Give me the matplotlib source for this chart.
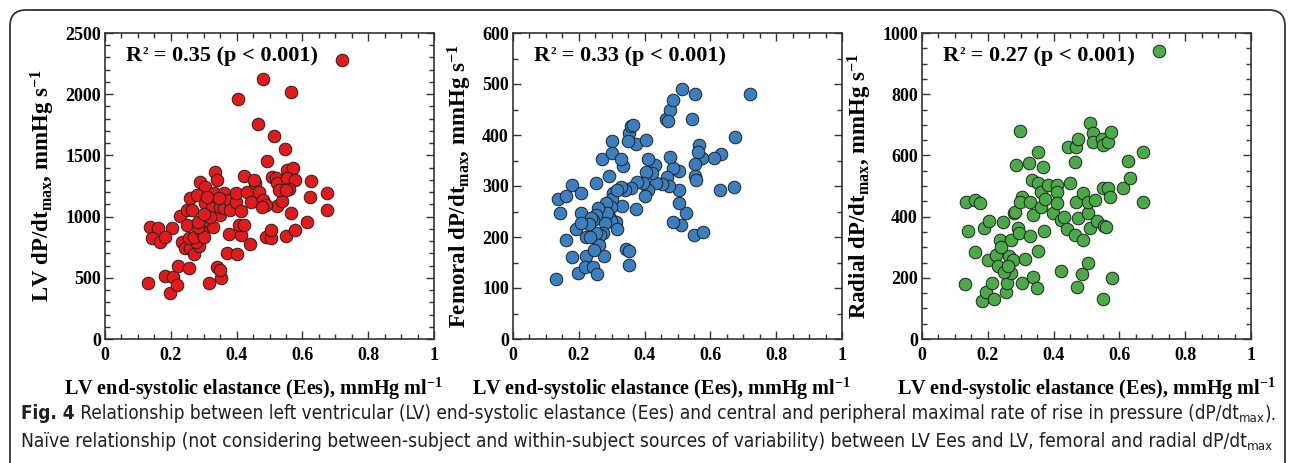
"""Fig. 4: LV Ees vs central and peripheral dP/dt_max."""

import matplotlib

matplotlib.use("Agg")

import matplotlib.pyplot as plt
from matplotlib.patches import FancyBboxPatch
from matplotlib.ticker import MultipleLocator

plt.rcParams["font.family"] = ["Liberation Serif", "DejaVu Serif"]
plt.rcParams["font.weight"] = "bold"
plt.rcParams["mathtext.fontset"] = "custom"
plt.rcParams["mathtext.rm"] = "Liberation Serif:bold"
plt.rcParams["mathtext.bf"] = "Liberation Serif:bold"
plt.rcParams["mathtext.it"] = "Liberation Serif:bold"

# --- data ---
lv_ees = [0.132, 0.198, 0.183, 0.208, 0.219, 0.222, 0.254, 0.315, 0.340, 0.353,
          0.350, 0.371, 0.401, 0.442, 0.376, 0.412, 0.407, 0.424, 0.488, 0.506,
          0.505, 0.549, 0.579, 0.613, 0.564, 0.523, 0.624, 0.627, 0.676, 0.676,
          0.491, 0.546, 0.137, 0.162, 0.142, 0.168, 0.203, 0.183, 0.227, 0.249,
          0.234, 0.244, 0.259, 0.269, 0.285, 0.276, 0.254, 0.269, 0.295, 0.300,
          0.328, 0.284, 0.300, 0.284, 0.249, 0.264, 0.257, 0.290, 0.305, 0.280,
          0.335, 0.340, 0.305, 0.330, 0.328, 0.325, 0.350, 0.349, 0.361, 0.361,
          0.376, 0.381, 0.397, 0.412, 0.397, 0.424, 0.432, 0.445, 0.457, 0.468,
          0.480, 0.488, 0.477, 0.452, 0.509, 0.519, 0.523, 0.539, 0.529, 0.554,
          0.572, 0.554, 0.576, 0.559, 0.549, 0.310, 0.318, 0.300, 0.345, 0.403,
          0.465, 0.480, 0.513, 0.566, 0.719]
lv_dpdt = [455, 378, 515, 509, 441, 596, 577, 460, 591, 501,
           564, 700, 698, 776, 858, 851, 931, 931, 831, 824,
           888, 841, 891, 953, 1027, 1087, 1163, 1294, 1195, 1054,
           1457, 1549, 918, 905, 822, 795, 905, 836, 1005, 931,
           795, 741, 741, 694, 763, 790, 822, 836, 877, 836,
           918, 918, 972, 958, 1054, 1054, 1149, 1280, 1244, 1177,
           1367, 1299, 1108, 1190, 1114, 1067, 1013, 1081, 1190, 1067,
           1136, 1054, 1122, 1049, 1190, 1332, 1204, 1122, 1272, 1204,
           1136, 1095, 1081, 1299, 1321, 1312, 1272, 1131, 1218, 1381,
           1395, 1312, 1303, 1226, 1218, 1160, 1000, 1020, 1150, 1964,
           1760, 2127, 1657, 2019, 2282]

fem_ees = [0.130, 0.137, 0.144, 0.162, 0.162, 0.180, 0.180, 0.206, 0.198, 0.193,
           0.206, 0.223, 0.218, 0.243, 0.255, 0.252, 0.277, 0.271, 0.302, 0.302,
           0.314, 0.342, 0.352, 0.352, 0.352, 0.359, 0.365, 0.373, 0.350, 0.403,
           0.373, 0.334, 0.329, 0.466, 0.478, 0.486, 0.515, 0.552, 0.545, 0.719,
           0.674, 0.671, 0.628, 0.633, 0.611, 0.575, 0.565, 0.562, 0.552, 0.552,
           0.557, 0.549, 0.577, 0.527, 0.512, 0.486, 0.504, 0.504, 0.504, 0.486,
           0.478, 0.468, 0.474, 0.454, 0.436, 0.431, 0.421, 0.410, 0.405, 0.410,
           0.400, 0.395, 0.377, 0.359, 0.339, 0.329, 0.332, 0.304, 0.302, 0.299,
           0.294, 0.299, 0.292, 0.284, 0.286, 0.279, 0.274, 0.263, 0.261, 0.251,
           0.258, 0.251, 0.243, 0.238, 0.231, 0.223, 0.233, 0.208, 0.245, 0.316,
           0.316, 0.470]
fem_dpdt = [117, 274, 248, 280, 194, 301, 160, 287, 129, 216,
            248, 163, 142, 142, 128, 305, 162, 352, 389, 364,
            230, 176, 172, 145, 403, 417, 419, 383, 389, 390,
            254, 340, 352, 432, 450, 468, 491, 480, 432, 480,
            397, 299, 293, 363, 354, 354, 380, 367, 343, 320,
            312, 204, 209, 248, 224, 230, 267, 292, 330, 335,
            357, 318, 300, 303, 305, 341, 325, 352, 328, 293,
            280, 306, 308, 297, 292, 299, 260, 286, 274, 258,
            237, 232, 320, 266, 248, 228, 207, 204, 185, 207,
            256, 243, 233, 237, 226, 200, 200, 228, 174, 215,
            292, 428]

rad_ees = [0.130, 0.135, 0.160, 0.176, 0.140, 0.160, 0.181, 0.194, 0.188, 0.204,
           0.201, 0.214, 0.219, 0.226, 0.231, 0.236, 0.245, 0.255, 0.257, 0.265,
           0.269, 0.272, 0.277, 0.279, 0.282, 0.287, 0.292, 0.295, 0.299, 0.303,
           0.299, 0.303, 0.313, 0.326, 0.328, 0.328, 0.333, 0.338, 0.338, 0.351,
           0.353, 0.353, 0.353, 0.363, 0.363, 0.369, 0.371, 0.374, 0.384, 0.399,
           0.409, 0.409, 0.411, 0.424, 0.431, 0.421, 0.440, 0.445, 0.450, 0.465,
           0.468, 0.468, 0.465, 0.475, 0.475, 0.472, 0.485, 0.488, 0.490, 0.506,
           0.506, 0.506, 0.511, 0.511, 0.519, 0.521, 0.526, 0.533, 0.546, 0.551,
           0.553, 0.559, 0.551, 0.551, 0.565, 0.566, 0.574, 0.570, 0.577, 0.612,
           0.627, 0.633, 0.673, 0.673, 0.721, 0.240, 0.250, 0.262]
rad_dpdt = [180, 449, 454, 443, 353, 284, 123, 152, 362, 387,
            259, 183, 130, 275, 237, 324, 382, 153, 183, 272,
            215, 324, 259, 411, 416, 568, 364, 346, 679, 465,
            449, 183, 261, 576, 449, 337, 520, 405, 201, 166,
            289, 612, 509, 482, 433, 563, 353, 457, 503, 413,
            503, 482, 443, 389, 400, 221, 359, 628, 511, 340,
            449, 628, 579, 395, 652, 170, 212, 478, 324, 411,
            449, 250, 362, 707, 672, 645, 454, 384, 655, 634,
            370, 365, 132, 492, 495, 645, 677, 463, 199, 492,
            583, 525, 612, 449, 940, 300, 220, 240]

panels = [
    (lv_ees, lv_dpdt, "#e31a1c", "LV", "0.35", 2500, 500, 100),
    (fem_ees, fem_dpdt, "#3a7fbf", "Femoral", "0.33", 600, 100, 50),
    (rad_ees, rad_dpdt, "#4aaa47", "Radial", "0.27", 1000, 200, 50),
]
lefts_px = [105, 513, 922]
xlabel_pos = [0.45, 0.45, 0.5]

W, H = 1292, 463
fig = plt.figure(figsize=(W / 100, H / 100), dpi=100)
renderer = fig.canvas.get_renderer()


def write_pieces(pieces, x_px, y_px, scale=1.0, **kw):
    """Lay text pieces (text, weight, size, raise_px) one after the other."""
    x = x_px
    made = []
    for txt, weight, size, dy in pieces:
        t = fig.text(x / W, (H - y_px + dy * scale) / H, txt, fontweight=weight,
                     fontsize=size * scale, ha="left", va="baseline", **kw)
        made.append(t)
        x = t.get_window_extent(renderer).x1
    return made, x


# rounded frame around the whole figure
frame = FancyBboxPatch((0.10, -0.30), 12.75, 4.83,
                       boxstyle="round,pad=0,rounding_size=0.16",
                       transform=fig.dpi_scale_trans, facecolor="none",
                       edgecolor="#333333", linewidth=1.3, clip_on=False)
fig.patches.append(frame)

for (xs, ys, color, site, r2, ymax, ymaj, ymin), left, xl in zip(panels, lefts_px, xlabel_pos):
    ax = fig.add_axes([left / W, (H - 339) / H, 329 / W, 306 / H])
    ax.scatter(xs, ys, s=82, color=color, edgecolor="#222222", linewidth=0.7,
               zorder=3, clip_on=False)
    ax.set_xlim(0, 1)
    ax.set_ylim(0, ymax)
    ax.xaxis.set_major_locator(MultipleLocator(0.2))
    ax.xaxis.set_minor_locator(MultipleLocator(0.05))
    ax.yaxis.set_major_locator(MultipleLocator(ymaj))
    ax.yaxis.set_minor_locator(MultipleLocator(ymin))
    ax.xaxis.set_major_formatter(plt.FuncFormatter(lambda v, p: f"{v:g}"))
    ax.tick_params(which="both", direction="in", top=True, right=True,
                   labelsize=13, width=1.0, color="#333333")
    ax.tick_params(which="major", length=6)
    ax.tick_params(which="minor", length=3.5)
    ax.tick_params(axis="x", pad=6)
    ax.tick_params(axis="y", pad=3)
    for sp in ax.spines.values():
        sp.set_linewidth(1.2)
        sp.set_color("#333333")
    # R² note, superscript kept small like the original
    write_pieces([("R", "bold", 16, 0), ("2", "bold", 8, 7),
                  (f" = {r2} (p < 0.001)", "bold", 16, 0)], left + 21, 61)
    ax.set_xlabel(r"LV end-systolic elastance (Ees), mmHg ml$^{\mathrm{-1}}$",
                  fontsize=14.5, fontweight="bold", labelpad=8, x=xl)
    ax.set_ylabel(site + r" dP/dt$_{\mathrm{max}}$, mmHg s$^{\mathrm{-1}}$",
                  fontsize=16.5, fontweight="bold", labelpad=6)

# caption, stretched to the frame width
cap_kw = dict(family="DejaVu Sans", fontstretch="condensed", color="#231f20")


def fit_line(pieces, x_px, y_px, right_px):
    made, end = write_pieces(pieces, x_px, y_px, 1.0, **cap_kw)
    scale = (right_px - x_px) / (end - x_px)
    for t in made:
        t.remove()
    write_pieces(pieces, x_px, y_px, scale, **cap_kw)


line1 = [("Fig. 4", "bold", 13, 0),
         (" Relationship between left ventricular (LV) end-systolic elastance (Ees) and central "
          "and peripheral maximal rate of rise in pressure (dP/dt", "normal", 13, 0),
         ("max", "normal", 9, -3),
         (").", "normal", 13, 0)]
line2 = [("Naïve relationship (not considering between-subject and within-subject sources of "
          "variability) between LV Ees and LV, femoral and radial dP/dt", "normal", 13, 0),
         ("max", "normal", 9, -3)]
fit_line(line1, 21, 419, 1278)
fit_line(line2, 21, 447, 1277)

fig.savefig("out.png", dpi=100)
